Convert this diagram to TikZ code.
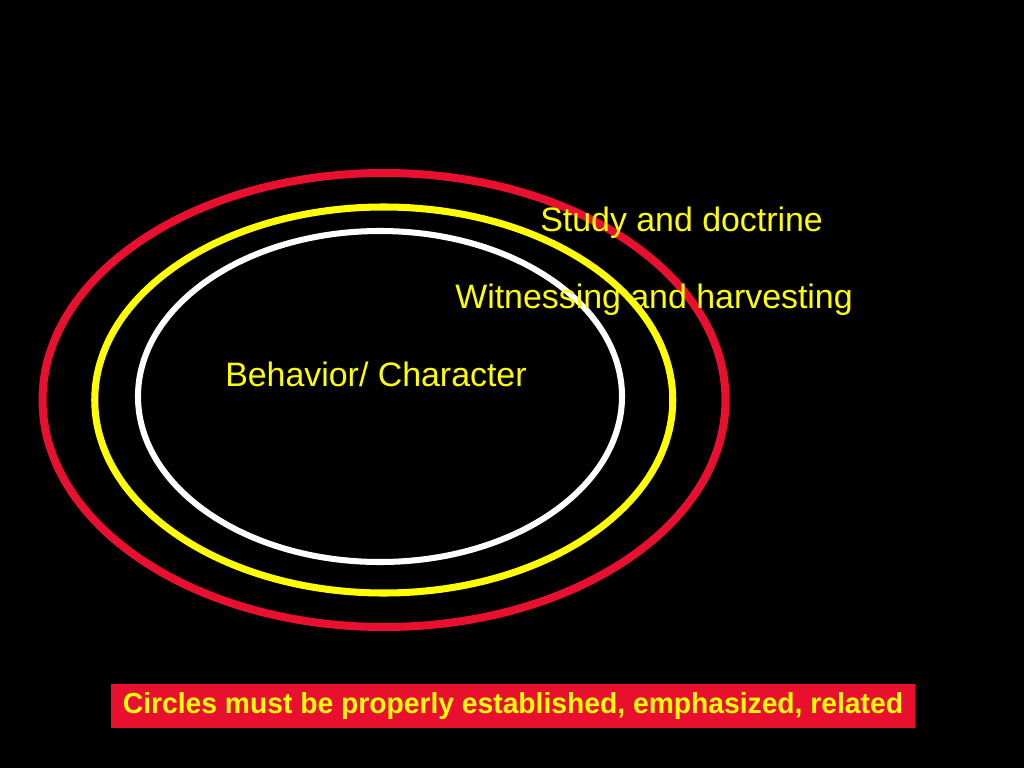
\documentclass[tikz,border=0pt]{standalone}
\usepackage{fontspec}
\setmainfont{Liberation Sans}
\newfontfamily\notefont[FakeStretch=0.975]{Liberation Sans}

\definecolor{ringred}{RGB}{232,16,46}
\definecolor{ringyellow}{RGB}{255,255,0}

\tikzset{
  ringtext/.style={text=ringyellow,inner sep=0pt,anchor=base west,
    font=\fontsize{24.1}{29}\selectfont},
  notebox/.style={fill=ringred,text=ringyellow,inner sep=0pt,
    minimum width=20.1cm,minimum height=1.1cm,
    font=\notefont\bfseries\fontsize{20.6}{24}\selectfont}
}

\begin{document}
\begin{tikzpicture}[x=0.025cm,y=-0.025cm]

\fill[black] (0,0) rectangle (1024,768);

% the three circles
\draw[ringred,line width=5.7pt] (384,400) ellipse [x radius=341.5,y radius=227];
\draw[ringyellow,line width=5pt] (383.75,400) ellipse [x radius=289,y radius=193];
\draw[white,line width=4.3pt] (380,396.5) ellipse [x radius=242,y radius=165.5];

\node[ringtext] (study) at (540,231) {Study and doctrine};
\node[ringtext] (witness) at (455,308) {Witnessing and harvesting};
\node[ringtext] (behavior) at (225,386) {Behavior/ Character};

\node[notebox] (note) at (513,706) {Circles must be properly established, emphasized, related};

\end{tikzpicture}
\end{document}
